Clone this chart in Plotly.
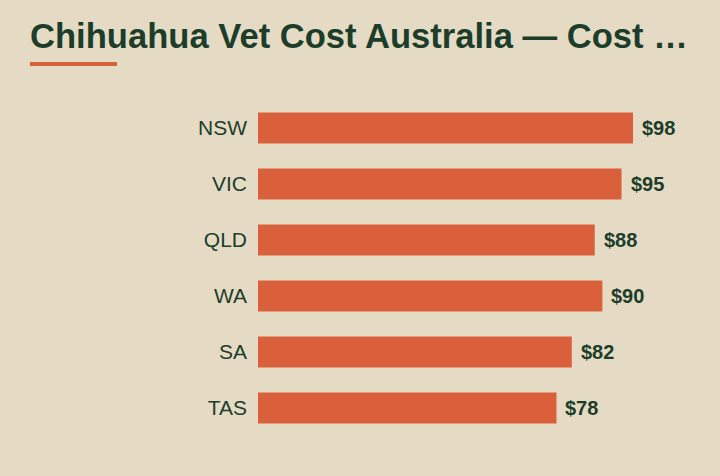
import plotly.graph_objects as go

states = ["NSW", "VIC", "QLD", "WA", "SA", "TAS"]
costs = [98, 95, 88, 90, 82, 78]
value_labels = ["$98", "$95", "$88", "$90", "$82", "$78"]

BG = "#e5dbc4"
BAR = "#d9603b"
INK = "#1d3d2b"

W, H = 720, 476
L, R, T, B = 258, 20, 100, 40
pw = W - L - R
ph = H - T - B

fig = go.Figure(go.Bar(
    x=costs, y=states, orientation="h",
    marker=dict(color=BAR, line=dict(width=0)),
    hoverinfo="skip",
))

for s, v, lab in zip(states, costs, value_labels):
    fig.add_annotation(x=v, y=s, text="<b>" + lab + "</b>", showarrow=False,
                       xanchor="left", yanchor="middle", xshift=7,
                       font=dict(family="Liberation Sans, Arial, sans-serif", size=20, color=INK))

fig.add_shape(type="rect", xref="paper", yref="paper",
              x0=(30 - L) / pw, x1=(117 - L) / pw,
              y0=(H - B - 66) / ph, y1=(H - B - 62) / ph,
              fillcolor=BAR, line=dict(width=0))

fig.update_layout(
    width=W, height=H,
    paper_bgcolor=BG, plot_bgcolor=BG,
    margin=dict(l=L, r=R, t=T, b=B, pad=0),
    bargap=0.446,
    showlegend=False,
    title=dict(text="<b>Chihuahua Vet Cost Australia — Cost …</b>",
               xref="container", yref="container",
               x=30 / W, y=1 - 35.5 / H, xanchor="left", yanchor="middle",
               font=dict(family="Liberation Sans, Arial, sans-serif", size=34.6, color=INK)),
    xaxis=dict(range=[0, pw / (375 / 98)], visible=False, fixedrange=True),
    yaxis=dict(autorange="reversed", showgrid=False, zeroline=False, showline=False,
               ticks="", ticklabelstandoff=10,
               tickfont=dict(family="Liberation Sans, Arial, sans-serif", size=21, color=INK)),
)

fig.write_html("out.html")
